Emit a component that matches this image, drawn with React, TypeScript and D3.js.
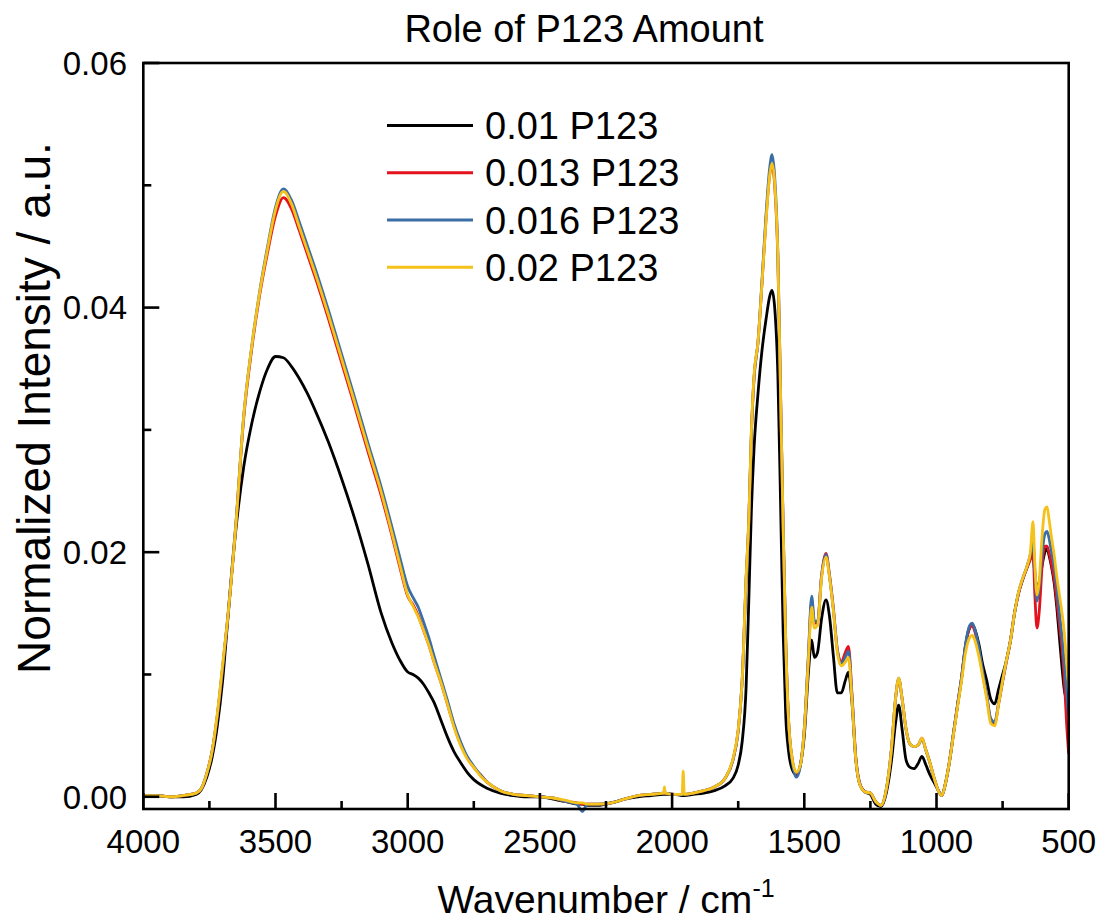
import React from "react";
import * as d3 from "d3";

// ---------- data ----------
const wavenumbers = [
  4000, 3950, 3900, 3850, 3800, 3780, 3760, 3740, 3720, 3700,
  3680, 3650, 3620, 3590, 3560, 3530, 3500, 3470, 3440, 3410,
  3380, 3350, 3300, 3250, 3200, 3150, 3100, 3060, 3030, 3000,
  2980, 2960, 2940, 2920, 2900, 2875, 2850, 2825, 2800, 2775,
  2750, 2725, 2700, 2650, 2600, 2550, 2500, 2450, 2400, 2360,
  2340, 2320, 2280, 2230, 2180, 2130, 2080, 2032, 2029, 2026,
  1990, 1962, 1958, 1954, 1920, 1880, 1840, 1800, 1770, 1750,
  1735, 1720, 1710, 1700, 1690, 1675, 1660, 1645, 1630, 1622,
  1612, 1600, 1590, 1580, 1570, 1560, 1545, 1530, 1515, 1500,
  1485, 1472, 1462, 1450, 1435, 1418, 1405, 1390, 1375, 1360,
  1345, 1333, 1320, 1305, 1290, 1270, 1250, 1230, 1210, 1190,
  1170, 1155, 1143, 1130, 1115, 1100, 1085, 1070, 1055, 1040,
  1025, 1010, 995, 980, 965, 950, 935, 920, 905, 890,
  875, 865, 855, 840, 825, 810, 795, 780, 765, 750,
  735, 720, 705, 690, 675, 660, 645, 635, 628, 620,
  612, 600, 590, 582, 575, 565, 555, 545, 535, 525,
  515, 508, 500,
];

const p123_010 = [
  0.0000, 0.0001, 0.0000, 0.0000, 0.0002, 0.0006, 0.0016, 0.0032, 0.0058, 0.0095,
  0.0146, 0.0218, 0.0270, 0.0305, 0.0331, 0.0350, 0.0360, 0.0359, 0.0352, 0.0342,
  0.0330, 0.0316, 0.0290, 0.0260, 0.0227, 0.0190, 0.0150, 0.0126, 0.0112, 0.0102,
  0.0100, 0.0097, 0.0092, 0.0085, 0.0077, 0.0063, 0.0049, 0.0037, 0.0028, 0.0020,
  0.0014, 0.0010, 0.0007, 0.0003, 0.0001, 0.0000, 0.0000, -0.0002, -0.0004, -0.0006,
  -0.0006, -0.0007, -0.0007, -0.0005, -0.0002, 0.0000, 0.0001, 0.0002, 0.0002, 0.0002,
  0.0002, 0.0001, 0.0001, 0.0001, 0.0002, 0.0003, 0.0005, 0.0009, 0.0015, 0.0026,
  0.0045, 0.0090, 0.0160, 0.0235, 0.0285, 0.0330, 0.0365, 0.0390, 0.0410, 0.0414,
  0.0400, 0.0345, 0.0243, 0.0135, 0.0065, 0.0038, 0.0022, 0.0018, 0.0026, 0.0050,
  0.0100, 0.0128, 0.0114, 0.0118, 0.0145, 0.0161, 0.0148, 0.0115, 0.0085, 0.0085,
  0.0095, 0.0102, 0.0078, 0.0030, 0.0010, 0.0004, 0.0002, -0.0006, -0.0008, 0.0003,
  0.0030, 0.0060, 0.0075, 0.0055, 0.0030, 0.0024, 0.0023, 0.0027, 0.0033, 0.0026,
  0.0018, 0.0012, 0.0006, 0.0001, 0.0012, 0.0030, 0.0053, 0.0075, 0.0097, 0.0124,
  0.0138, 0.0141, 0.0137, 0.0125, 0.0108, 0.0095, 0.0080, 0.0076, 0.0088, 0.0100,
  0.0112, 0.0128, 0.0150, 0.0166, 0.0177, 0.0186, 0.0195, 0.0198, 0.0182, 0.0170,
  0.0175, 0.0190, 0.0200, 0.0203, 0.0198, 0.0188, 0.0175, 0.0155, 0.0130, 0.0105,
  0.0085, 0.0080, 0.0075,
];

const p123_013 = [
  0.0001, 0.0001, 0.0000, 0.0001, 0.0003, 0.0007, 0.0019, 0.0037, 0.0066, 0.0105,
  0.0147, 0.0222, 0.0310, 0.0366, 0.0410, 0.0445, 0.0475, 0.0490, 0.0481, 0.0463,
  0.0444, 0.0425, 0.0391, 0.0355, 0.0319, 0.0282, 0.0246, 0.0214, 0.0188, 0.0164,
  0.0157, 0.0148, 0.0136, 0.0124, 0.0110, 0.0094, 0.0076, 0.0058, 0.0043, 0.0032,
  0.0024, 0.0018, 0.0012, 0.0005, 0.0002, 0.0001, 0.0000, -0.0001, -0.0004, -0.0005,
  -0.0006, -0.0006, -0.0006, -0.0005, -0.0002, 0.0001, 0.0002, 0.0003, 0.0003, 0.0003,
  0.0002, 0.0002, 0.0002, 0.0002, 0.0003, 0.0005, 0.0008, 0.0015, 0.0030, 0.0054,
  0.0095, 0.0178, 0.0225, 0.0298, 0.0343, 0.0372, 0.0420, 0.0472, 0.0510, 0.0516,
  0.0500, 0.0440, 0.0330, 0.0220, 0.0125, 0.0065, 0.0030, 0.0019, 0.0026, 0.0055,
  0.0112, 0.0160, 0.0142, 0.0142, 0.0180, 0.0199, 0.0182, 0.0154, 0.0120, 0.0110,
  0.0118, 0.0123, 0.0085, 0.0032, 0.0011, 0.0004, 0.0003, -0.0004, -0.0007, 0.0006,
  0.0040, 0.0080, 0.0096, 0.0080, 0.0055, 0.0043, 0.0041, 0.0042, 0.0048, 0.0038,
  0.0028, 0.0016, 0.0006, 0.0001, 0.0012, 0.0030, 0.0053, 0.0076, 0.0098, 0.0124,
  0.0138, 0.0140, 0.0135, 0.0120, 0.0100, 0.0082, 0.0063, 0.0060, 0.0076, 0.0094,
  0.0111, 0.0128, 0.0150, 0.0166, 0.0177, 0.0186, 0.0194, 0.0200, 0.0165, 0.0138,
  0.0150, 0.0190, 0.0205, 0.0205, 0.0200, 0.0190, 0.0178, 0.0160, 0.0140, 0.0120,
  0.0090, 0.0060, 0.0035,
];

const p123_016 = [
  0.0001, 0.0001, 0.0000, 0.0001, 0.0003, 0.0007, 0.0019, 0.0037, 0.0067, 0.0106,
  0.0148, 0.0223, 0.0312, 0.0368, 0.0413, 0.0450, 0.0482, 0.0497, 0.0488, 0.0470,
  0.0451, 0.0432, 0.0398, 0.0362, 0.0326, 0.0289, 0.0253, 0.0221, 0.0196, 0.0172,
  0.0163, 0.0155, 0.0143, 0.0130, 0.0115, 0.0097, 0.0079, 0.0060, 0.0045, 0.0033,
  0.0025, 0.0018, 0.0012, 0.0005, 0.0002, 0.0001, 0.0000, -0.0001, -0.0004, -0.0006,
  -0.0012, -0.0006, -0.0006, -0.0005, -0.0002, 0.0001, 0.0002, 0.0003, 0.0003, 0.0003,
  0.0002, 0.0002, 0.0002, 0.0002, 0.0003, 0.0005, 0.0008, 0.0015, 0.0030, 0.0054,
  0.0095, 0.0178, 0.0225, 0.0298, 0.0343, 0.0372, 0.0422, 0.0475, 0.0516, 0.0525,
  0.0507, 0.0445, 0.0333, 0.0222, 0.0126, 0.0064, 0.0028, 0.0016, 0.0025, 0.0056,
  0.0114, 0.0164, 0.0144, 0.0143, 0.0180, 0.0198, 0.0181, 0.0153, 0.0120, 0.0109,
  0.0114, 0.0119, 0.0083, 0.0031, 0.0011, 0.0004, 0.0003, -0.0004, -0.0007, 0.0006,
  0.0040, 0.0080, 0.0097, 0.0080, 0.0055, 0.0043, 0.0041, 0.0042, 0.0047, 0.0038,
  0.0028, 0.0016, 0.0006, 0.0001, 0.0012, 0.0030, 0.0053, 0.0076, 0.0098, 0.0125,
  0.0140, 0.0142, 0.0137, 0.0122, 0.0102, 0.0083, 0.0064, 0.0061, 0.0077, 0.0095,
  0.0112, 0.0128, 0.0150, 0.0167, 0.0178, 0.0187, 0.0198, 0.0208, 0.0185, 0.0160,
  0.0170, 0.0200, 0.0215, 0.0217, 0.0212, 0.0200, 0.0188, 0.0170, 0.0150, 0.0130,
  0.0105, 0.0085, 0.0066,
];

const p123_020 = [
  0.0001, 0.0001, 0.0000, 0.0001, 0.0003, 0.0007, 0.0019, 0.0037, 0.0068, 0.0108,
  0.0148, 0.0222, 0.0312, 0.0368, 0.0412, 0.0448, 0.0480, 0.0495, 0.0485, 0.0466,
  0.0447, 0.0428, 0.0394, 0.0358, 0.0322, 0.0285, 0.0249, 0.0216, 0.0190, 0.0165,
  0.0156, 0.0147, 0.0136, 0.0124, 0.0110, 0.0094, 0.0076, 0.0057, 0.0042, 0.0031,
  0.0024, 0.0017, 0.0012, 0.0005, 0.0002, 0.0001, 0.0000, -0.0001, -0.0003, -0.0005,
  -0.0005, -0.0006, -0.0006, -0.0005, -0.0002, 0.0001, 0.0002, 0.0003, 0.0008, 0.0003,
  0.0002, 0.0002, 0.0021, 0.0002, 0.0003, 0.0005, 0.0008, 0.0015, 0.0031, 0.0055,
  0.0095, 0.0180, 0.0226, 0.0300, 0.0345, 0.0372, 0.0420, 0.0470, 0.0510, 0.0518,
  0.0502, 0.0442, 0.0332, 0.0220, 0.0125, 0.0065, 0.0030, 0.0020, 0.0026, 0.0055,
  0.0110, 0.0155, 0.0138, 0.0140, 0.0178, 0.0196, 0.0180, 0.0152, 0.0118, 0.0107,
  0.0110, 0.0114, 0.0080, 0.0030, 0.0010, 0.0004, 0.0003, -0.0004, -0.0007, 0.0006,
  0.0040, 0.0080, 0.0097, 0.0080, 0.0055, 0.0043, 0.0041, 0.0042, 0.0048, 0.0038,
  0.0028, 0.0016, 0.0006, 0.0001, 0.0012, 0.0030, 0.0052, 0.0074, 0.0095, 0.0118,
  0.0130, 0.0132, 0.0128, 0.0115, 0.0098, 0.0080, 0.0060, 0.0058, 0.0076, 0.0095,
  0.0112, 0.0128, 0.0150, 0.0167, 0.0178, 0.0187, 0.0200, 0.0225, 0.0190, 0.0165,
  0.0175, 0.0215, 0.0235, 0.0237, 0.0228, 0.0212, 0.0198, 0.0180, 0.0165, 0.0150,
  0.0130, 0.0110, 0.0090,
];

const seriesLabels = ["0.01 P123", "0.013 P123", "0.016 P123", "0.02 P123"];
const seriesColors = ["#000000", "#e3121d", "#3b6ea5", "#f5c21b"];
const seriesValues = [p123_010, p123_013, p123_016, p123_020];

const xMajorTicks = [4000, 3500, 3000, 2500, 2000, 1500, 1000, 500];
const xMinorTicks = [3750, 3250, 2750, 2250, 1750, 1250, 750];
const yMajorTicks = [0, 0.02, 0.04, 0.06];
const yMinorTicks = [0.01, 0.03, 0.05];

const titleText = "Role of P123 Amount";
const xLabelText = "Wavenumber / cm";
const xLabelSup = "-1";
const yLabelText = "Normalized Intensity / a.u.";

// ---------- layout ----------
const W = 1102;
const H = 923;
const left = 143.3;
const right = 1068.7;
const top = 63;
const bottom = 809;
const FONT = "'Liberation Sans', Arial, Helvetica, sans-serif";

export default function App() {
  const x = d3.scaleLinear().domain([4000, 500]).range([left, right]);
  const y = d3.scaleLinear().domain([-0.001, 0.06]).range([bottom, top]);

  const line = d3
    .line<number>()
    .x((_, i) => x(wavenumbers[i]))
    .y((v) => y(v))
    .curve(d3.curveMonotoneX);

  const fmtY = d3.format(".2f");

  return (
    <svg
      width={W}
      height={H}
      style={{ position: "absolute", left: 0, top: 0, background: "#fff" }}
      fontFamily={FONT}
    >
      <rect x={0} y={0} width={W} height={H} fill="#fff" />
      {/* title */}
      <text x={584} y={42} fontSize={38} textAnchor="middle" fill="#000">
        {titleText}
      </text>

      {/* series */}
      {seriesValues.map((vals, si) => (
        <path
          key={si}
          d={line(vals) || ""}
          fill="none"
          stroke={seriesColors[si]}
          strokeWidth={2.8}
          strokeLinejoin="round"
        />
      ))}

      {/* frame */}
      <rect
        x={left}
        y={top}
        width={right - left}
        height={bottom - top}
        fill="none"
        stroke="#000"
        strokeWidth={2.6}
      />

      {/* x ticks */}
      {xMajorTicks.map((t) => (
        <g key={"xm" + t}>
          <line x1={x(t)} x2={x(t)} y1={bottom} y2={bottom - 16} stroke="#000" strokeWidth={2.6} />
          <text x={x(t)} y={853} fontSize={33} textAnchor="middle" fill="#000">
            {t}
          </text>
        </g>
      ))}
      {xMinorTicks.map((t) => (
        <line key={"xn" + t} x1={x(t)} x2={x(t)} y1={bottom} y2={bottom - 8} stroke="#000" strokeWidth={2.6} />
      ))}

      {/* y ticks */}
      {yMajorTicks.map((t) => (
        <g key={"ym" + t}>
          <line x1={left} x2={left + 16} y1={y(t)} y2={y(t)} stroke="#000" strokeWidth={2.6} />
          <text x={127} y={y(t) + 11.8} fontSize={33} textAnchor="end" fill="#000">
            {fmtY(t)}
          </text>
        </g>
      ))}
      {yMinorTicks.map((t) => (
        <line key={"yn" + t} x1={left} x2={left + 8} y1={y(t)} y2={y(t)} stroke="#000" strokeWidth={2.6} />
      ))}

      {/* axis labels */}
      <text x={(left + right) / 2} y={913} fontSize={39} textAnchor="middle" fill="#000">
        {xLabelText}
        <tspan fontSize={25} dy={-16}>
          {xLabelSup}
        </tspan>
      </text>
      <text
        transform={`translate(50, 408) rotate(-90)`}
        fontSize={46}
        textAnchor="middle"
        fill="#000"
      >
        {yLabelText}
      </text>

      {/* legend */}
      {seriesLabels.map((lab, i) => {
        const ly = 125.6 + i * 47.2;
        return (
          <g key={"lg" + i}>
            <line x1={387} x2={473} y1={ly} y2={ly} stroke={seriesColors[i]} strokeWidth={3} />
            <text x={485} y={ly + 13.6} fontSize={38} fill="#000">
              {lab}
            </text>
          </g>
        );
      })}
    </svg>
  );
}
